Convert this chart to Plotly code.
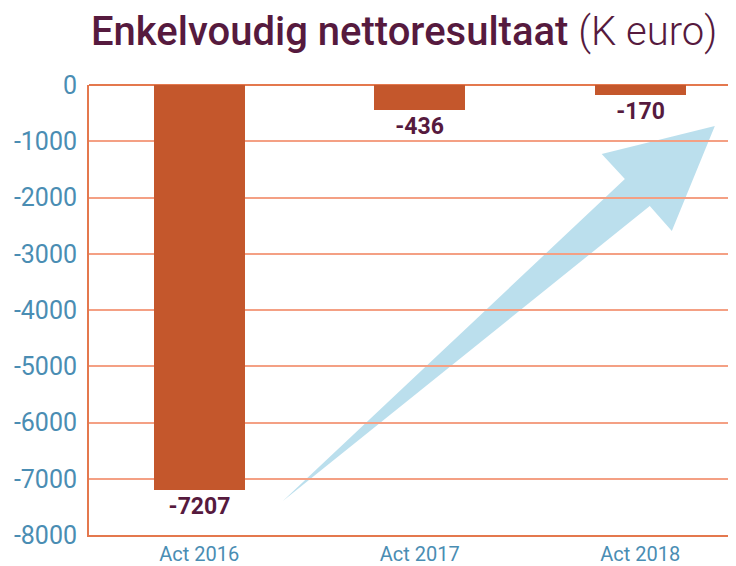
import plotly.graph_objects as go

categories = ["Act 2016", "Act 2017", "Act 2018"]
values = [-7207, -436, -170]
value_labels = ["-7207", "-436", "-170"]
y_ticks = [0, -1000, -2000, -3000, -4000, -5000, -6000, -7000, -8000]

# decorative arrow outline (data coordinates: category index, value)
arrow_x = [0.379, 1.930, 1.825, 2.338, 2.143, 2.043]
arrow_y = [-7396, -1671, -1227, -729, -2596, -2151]

BAR = "#C4572C"
GRID = "#F4A084"
AXIS = "#E4784E"
TICK = "#4A8DB3"
TITLE = "#561A3E"
ARROW = "rgba(168,214,232,0.78)"

FONT = "Roboto, sans-serif"

fig = go.Figure()
fig.add_trace(go.Bar(
    x=list(range(len(categories))), y=values,
    width=0.413,
    marker=dict(color=BAR, line=dict(width=0)),
    text=value_labels, textposition="outside",
    textfont=dict(family=FONT, size=23, color=TITLE, weight=700),
    cliponaxis=False,
))

path = "M " + " L ".join(f"{x},{y}" for x, y in zip(arrow_x, arrow_y)) + " Z"
fig.add_shape(type="path", path=path, xref="x", yref="y",
              fillcolor=ARROW, line=dict(width=0), layer="below")

# page body has an 8px default margin, so the figure is sized to fit the window
fig.update_layout(
    width=728, height=558,
    margin=dict(l=81, r=0, t=77, b=31),
    plot_bgcolor="white", paper_bgcolor="white",
    showlegend=False,
    bargap=0,
    annotations=[dict(
        text="<span style='font-weight:500'>Enkelvoudig nettoresultaat</span> <span style='font-weight:300'>(K euro)</span>",
        xref="paper", yref="paper", x=0.487, y=1.0, yshift=54,
        xanchor="center", yanchor="middle", showarrow=False,
        font=dict(family=FONT, size=40, color=TITLE),
    )],
)
fig.update_xaxes(
    range=[-0.5, 2.434], automargin=False,
    tickmode="array", tickvals=list(range(len(categories))), ticktext=categories,
    tickfont=dict(family=FONT, size=20, color=TICK),
    showgrid=False, zeroline=False,
    showline=True, linecolor=AXIS, linewidth=2,
    ticks="", ticklen=0,
)
fig.update_yaxes(
    range=[-8000, 0], automargin=False,
    tickmode="array", tickvals=y_ticks, ticktext=[str(v) for v in y_ticks],
    tickfont=dict(family=FONT, size=25, color=TICK),
    showgrid=True, gridcolor=GRID, gridwidth=2,
    zeroline=True, zerolinecolor=AXIS, zerolinewidth=2,
    showline=True, linecolor=AXIS, linewidth=2,
    ticks="outside", ticklen=5, tickcolor="rgba(0,0,0,0)",
)

fig.write_html("out.html")
